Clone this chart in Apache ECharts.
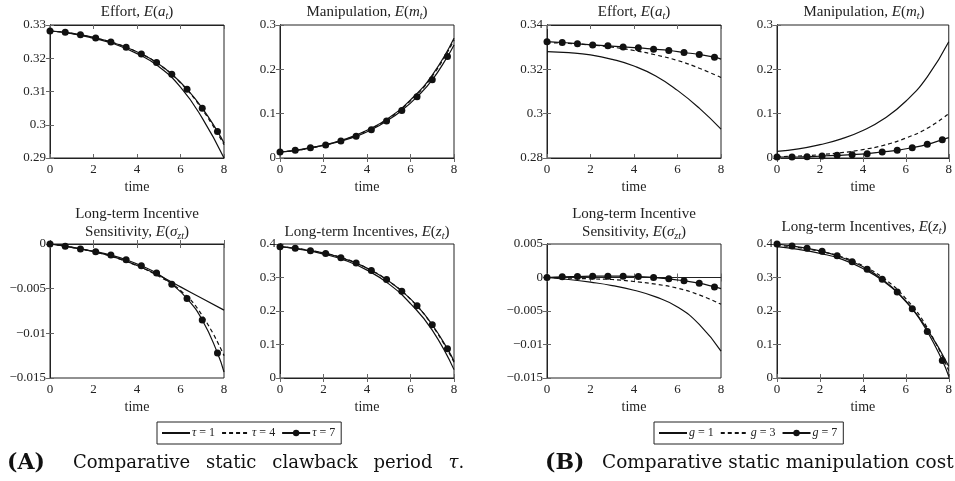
<!DOCTYPE html>
<html>
<head>
<meta charset="utf-8">
<script src="https://cdn.jsdelivr.net/npm/echarts@6/dist/echarts.min.js"></script>
<style>
  html, body { margin: 0; padding: 0; background: #fff; }
  #chart { width: 955px; height: 481px; }
</style>
</head>
<body>
<div id="chart"></div>
<script>
// time grid for the plain curves, and the marker positions of the third series
const lineT = [0, 1, 2, 3, 4, 5, 6, 7, 8]
const markT = [0, 0.7, 1.4, 2.1, 2.8, 3.5, 4.2, 4.9, 5.6, 6.3, 7.0, 7.7, 8]

const xTicks = [0, 2, 4, 6, 8]

// (A) clawback period tau
const effortA1 = [0.3282, 0.3274, 0.3260, 0.3242, 0.3214, 0.3175, 0.3113, 0.3020, 0.2900]
const effortA4 = [0.3282, 0.3275, 0.3262, 0.3245, 0.3219, 0.3182, 0.3126, 0.3046, 0.2940]
const effortA7 = [0.3282, 0.3278, 0.3271, 0.3261, 0.3249, 0.3233, 0.3213, 0.3187, 0.3152, 0.3107, 0.3050, 0.2980, 0.2945]

const manipA1 = [0.0135, 0.0190, 0.0290, 0.0425, 0.0625, 0.0905, 0.1310, 0.1870, 0.2700]
const manipA4 = [0.0135, 0.0189, 0.0287, 0.0420, 0.0617, 0.0893, 0.1292, 0.1843, 0.2660]
const manipA7 = [0.0135, 0.0173, 0.0233, 0.0293, 0.0383, 0.0488, 0.0638, 0.0833, 0.1073, 0.1380, 0.1763, 0.2288, 0.2550]

const sensA1 = [0, -0.00036, -0.00085, -0.0015, -0.0024, -0.0035, -0.0048, -0.0061, -0.0074]
const sensA4 = [0, -0.00037, -0.00086, -0.00152, -0.00245, -0.00362, -0.0052, -0.0080, -0.0125]
const sensA7 = [0, -0.00026, -0.00056, -0.00086, -0.00124, -0.00176, -0.00244, -0.00326, -0.0045, -0.00611, -0.00851, -0.01219, -0.01433]

const ltiA1 = [0.392, 0.383, 0.370, 0.351, 0.322, 0.281, 0.222, 0.143, 0.025]
const ltiA4 = [0.392, 0.385, 0.373, 0.356, 0.328, 0.289, 0.235, 0.157, 0.047]
const ltiA7 = [0.392, 0.387, 0.380, 0.372, 0.359, 0.343, 0.321, 0.294, 0.259, 0.216, 0.159, 0.087, 0.050]

// (B) manipulation cost g
const effortB1 = [0.3280, 0.3275, 0.3265, 0.3245, 0.3215, 0.3170, 0.3105, 0.3025, 0.2930]
const effortB3 = [0.3320, 0.3317, 0.3310, 0.3300, 0.3285, 0.3265, 0.3240, 0.3205, 0.3163]
const effortB7 = [0.3325, 0.3321, 0.3315, 0.3310, 0.3306, 0.3301, 0.3297, 0.3291, 0.3285, 0.3276, 0.3267, 0.3255, 0.3246]

const manipB1 = [0.015, 0.0205, 0.030, 0.043, 0.062, 0.089, 0.128, 0.183, 0.262]
const manipB3 = [0.003, 0.0045, 0.0075, 0.012, 0.019, 0.029, 0.045, 0.067, 0.100]
const manipB7 = [0.0023, 0.0023, 0.003, 0.0045, 0.006, 0.0075, 0.0098, 0.0135, 0.0173, 0.0233, 0.0308, 0.0413, 0.0460]

const sensB1 = [0, -0.0003, -0.0007, -0.0012, -0.0019, -0.0029, -0.0044, -0.0070, -0.0110]
const sensB3 = [0, -0.0001, -0.0002, -0.0003, -0.0006, -0.0010, -0.0016, -0.0026, -0.0040]
const sensB7 = [0, 0.0001, 0.00015, 0.0002, 0.0002, 0.0002, 0.00015, 0, -0.0002, -0.0005, -0.00085, -0.0014, -0.00165]

const ltiB1 = [0.392, 0.384, 0.372, 0.355, 0.327, 0.287, 0.228, 0.145, 0.035]
const ltiB3 = [0.396, 0.389, 0.378, 0.362, 0.335, 0.296, 0.237, 0.150, 0.022]
const ltiB7 = [0.400, 0.394, 0.387, 0.378, 0.365, 0.347, 0.325, 0.295, 0.257, 0.207, 0.139, 0.052, 0.005]

// y tick values per panel
const yEffortA = [0.29, 0.30, 0.31, 0.32, 0.33]
const yManip = [0, 0.1, 0.2, 0.3]
const ySensA = [-0.015, -0.01, -0.005, 0]
const yLti = [0, 0.1, 0.2, 0.3, 0.4]
const yEffortB = [0.28, 0.30, 0.32, 0.34]
const ySensB = [-0.015, -0.01, -0.005, 0, 0.005]

const namesA = ['τ = 1', 'τ = 4', 'τ = 7']
const namesB = ['g = 1', 'g = 3', 'g = 7']

const FONT = 'Liberation Serif'
const CAPFONT = 'DejaVu Serif'

const panels = [
  { left: 50, top: 25, height: 133, y: yEffortA, s: [effortA1, effortA4, effortA7], names: namesA,
    title: ['Effort, {i|E}({i|a}{s|t})'] },
  { left: 280, top: 25, height: 133, y: yManip, s: [manipA1, manipA4, manipA7], names: namesA,
    title: ['Manipulation, {i|E}({i|m}{s|t})'] },
  { left: 547, top: 25, height: 133, y: yEffortB, s: [effortB1, effortB3, effortB7], names: namesB,
    title: ['Effort, {i|E}({i|a}{s|t})'] },
  { left: 777, top: 25, height: 133, y: yManip, s: [manipB1, manipB3, manipB7], names: namesB,
    title: ['Manipulation, {i|E}({i|m}{s|t})'] },
  { left: 50, top: 244, height: 134, y: ySensA, s: [sensA1, sensA4, sensA7], names: namesA,
    title: ['Long-term Incentive', 'Sensitivity, {i|E}({i|σ}{s|zt})'] },
  { left: 280, top: 244, height: 134, y: yLti, s: [ltiA1, ltiA4, ltiA7], names: namesA,
    title: ['Long-term Incentives, {i|E}({i|z}{s|t})'], titleY: 232 },
  { left: 547, top: 244, height: 134, y: ySensB, s: [sensB1, sensB3, sensB7], names: namesB,
    title: ['Long-term Incentive', 'Sensitivity, {i|E}({i|σ}{s|zt})'] },
  { left: 777, top: 244, height: 134, y: yLti, s: [ltiB1, ltiB3, ltiB7], names: namesB,
    title: ['Long-term Incentives, {i|E}({i|z}{s|t})'], titleY: 227 }
]
const WIDTH = 174

const titleRich = {
  i: { fontFamily: FONT, fontSize: 15, fontStyle: 'italic', fill: '#222' },
  s: { fontFamily: FONT, fontSize: 10, fontStyle: 'italic', fill: '#222', verticalAlign: 'bottom', lineHeight: 18 }
}

function fmt(v) {
  return String(parseFloat(v.toFixed(4))).replace('-', '\u2212')
}

const tickStyle = { show: true, inside: true, length: 4, lineStyle: { color: '#666', width: 1 } }
const labelStyle = { color: '#222', fontFamily: FONT, fontSize: 13 }

const grid = []
const xAxis = []
const yAxis = []
const series = []
const graphic = []

panels.forEach((p, i) => {
  grid.push({ left: p.left, top: p.top, width: WIDTH, height: p.height, show: true,
    borderColor: '#222', borderWidth: 1, backgroundColor: 'transparent' })
  const yMin = p.y[0], yMax = p.y[p.y.length - 1], yInt = p.y[1] - p.y[0]
  const base = { gridIndex: i, type: 'value', splitLine: { show: false },
    axisLine: { show: true, lineStyle: { color: '#222', width: 1 } }, axisTick: tickStyle }
  xAxis.push({ ...base, position: 'bottom', min: xTicks[0], max: xTicks[xTicks.length - 1],
    interval: xTicks[1] - xTicks[0], name: 'time', nameLocation: 'middle', nameGap: 22,
    nameTextStyle: { color: '#222', fontFamily: FONT, fontSize: 14 },
    axisLabel: { ...labelStyle, margin: 5 } })
  xAxis.push({ ...base, position: 'top', min: xTicks[0], max: xTicks[xTicks.length - 1],
    interval: xTicks[1] - xTicks[0], axisLabel: { show: false } })
  yAxis.push({ ...base, position: 'left', min: yMin, max: yMax, interval: yInt,
    axisLabel: { ...labelStyle, margin: 4, formatter: fmt } })
  yAxis.push({ ...base, position: 'right', min: yMin, max: yMax, interval: yInt,
    axisLabel: { show: false } })

  const common = { type: 'line', xAxisIndex: 2 * i, yAxisIndex: 2 * i, smooth: 0.5,
    silent: true, animation: false, z: 3 }
  series.push({ ...common, name: p.names[0], data: lineT.map((t, k) => [t, p.s[0][k]]),
    symbol: 'none', lineStyle: { color: '#111', width: 1.2 }, itemStyle: { color: '#111' } })
  series.push({ ...common, name: p.names[1], data: lineT.map((t, k) => [t, p.s[1][k]]),
    symbol: 'none', lineStyle: { color: '#111', width: 1.2, type: [4, 3] }, itemStyle: { color: '#111' } })
  series.push({ ...common, name: p.names[2],
    data: markT.map((t, k) => (k === markT.length - 1
      ? { value: [t, p.s[2][k]], symbolSize: 0 } : [t, p.s[2][k]])),
    symbol: 'circle', symbolSize: 7, showSymbol: true,
    lineStyle: { color: '#111', width: 1.2 }, itemStyle: { color: '#111' }, z: 4 })

  const cx = p.left + WIDTH / 2
  if (p.title.length === 2) {
    graphic.push({ type: 'text', x: cx, y: 214, style: { text: p.title[0],
      align: 'center', verticalAlign: 'middle', font: '15px ' + FONT, fill: '#222' } })
    graphic.push({ type: 'text', x: cx, y: 232, style: { text: p.title[1], rich: titleRich,
      align: 'center', verticalAlign: 'middle', font: '15px ' + FONT, fill: '#222' } })
  } else {
    graphic.push({ type: 'text', x: cx, y: p.titleY || 12, style: { text: p.title[0], rich: titleRich,
      align: 'center', verticalAlign: 'middle', font: '15px ' + FONT, fill: '#222' } })
  }
})

// captions (caption A is typeset with wider word gaps, as in the source)
const capRich = {
  i: { fontFamily: CAPFONT, fontSize: 18, fontStyle: 'italic', fill: '#111' },
  g: { fontFamily: CAPFONT, fontSize: 18, width: 16 }
}
graphic.push({ type: 'text', x: 7, y: 463, style: { text: '(A)', font: 'bold 22px ' + CAPFONT,
  fill: '#111', verticalAlign: 'middle' } })
graphic.push({ type: 'text', x: 73, y: 463, style: {
  text: 'Comparative{g| }static{g| }clawback{g| }period{g| }{i|τ}.', font: '18px ' + CAPFONT, fill: '#111',
  verticalAlign: 'middle', rich: capRich } })
graphic.push({ type: 'text', x: 545, y: 463, style: { text: '(B)', font: 'bold 22px ' + CAPFONT,
  fill: '#111', verticalAlign: 'middle' } })
graphic.push({ type: 'text', x: 602, y: 463, style: {
  text: 'Comparative static manipulation cost', font: '18.5px ' + CAPFONT, fill: '#111',
  verticalAlign: 'middle' } })

const legendBase = {
  top: 422, orient: 'horizontal', itemWidth: 28, itemHeight: 8, itemGap: 6,
  padding: [5, 6, 5, 4], borderColor: '#222', borderWidth: 1, selectedMode: false,
  textStyle: { fontFamily: FONT, fontSize: 12, color: '#222', padding: [0, 0, 0, -3],
    rich: { i: { fontFamily: FONT, fontSize: 12, fontStyle: 'italic', color: '#222' } } },
  formatter: (n) => n.replace(/^(τ|g)/, '{i|$1}')
}
const noMark = { itemStyle: { opacity: 0 } }
const legendData = (names) => [
  { name: names[0], ...noMark },
  { name: names[1], ...noMark },
  { name: names[2] }
]

const chart = echarts.init(document.getElementById('chart'), null, { renderer: 'canvas' })
chart.setOption({
  backgroundColor: '#fff',
  animation: false,
  grid,
  xAxis,
  yAxis,
  series,
  graphic,
  legend: [
    { ...legendBase, left: 157, data: legendData(namesA) },
    { ...legendBase, left: 654, data: legendData(namesB) }
  ]
})
</script>
</body>
</html>
